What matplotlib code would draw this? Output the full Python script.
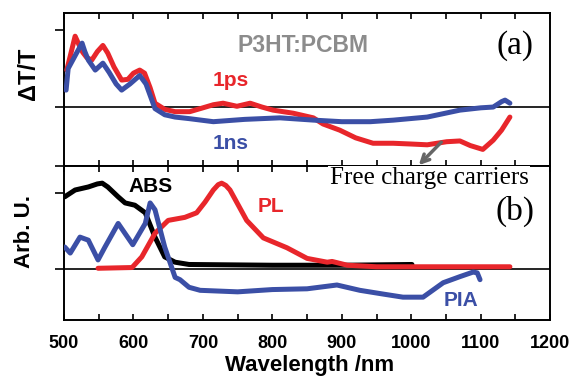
import matplotlib
matplotlib.use("Agg")
import matplotlib.pyplot as plt
from matplotlib.ticker import MultipleLocator

# ------------------------------------------------------
# dados (comprimento de onda em nm)
# painel (a): delta T / T
wl_1ps = [504, 510, 516, 522, 527, 533, 540, 548, 556, 563, 572, 583, 592, 600,
          609, 616, 624, 631, 645, 660, 681, 700, 715, 729, 749, 768, 785, 801,
          830, 859, 873, 897, 920, 945, 974, 1000, 1023, 1051, 1070, 1085, 1103,
          1118, 1130, 1142]
dt_1ps = [0.48, 0.70, 0.92, 0.80, 0.71, 0.64, 0.61, 0.72, 0.80, 0.70, 0.52, 0.35,
          0.36, 0.44, 0.48, 0.44, 0.25, 0.05, -0.03, -0.06, -0.06, -0.01, 0.03,
          0.05, 0.01, 0.05, 0.00, -0.04, -0.08, -0.14, -0.22, -0.30, -0.40, -0.47,
          -0.47, -0.48, -0.49, -0.45, -0.44, -0.50, -0.55, -0.43, -0.30, -0.13]

wl_1ns = [503, 506, 512, 518, 526, 530, 535, 545, 556, 565, 575, 583, 595, 609,
          618, 631, 645, 660, 680, 715, 760, 811, 860, 900, 941, 974, 1023, 1070,
          1100, 1118, 1130, 1135, 1142]
dt_1ns = [0.22, 0.50, 0.60, 0.70, 0.83, 0.72, 0.61, 0.48, 0.57, 0.45, 0.30, 0.22,
          0.30, 0.41, 0.30, -0.02, -0.10, -0.13, -0.15, -0.19, -0.16, -0.14, -0.17,
          -0.19, -0.19, -0.17, -0.13, -0.04, -0.01, 0.00, 0.07, 0.09, 0.05]

# painel (b): unidades arbitrárias
wl_abs = [501, 516, 535, 548, 555, 563, 578, 588, 602, 617, 631, 645, 660, 680,
          800, 900, 1001]
abs_val = [0.95, 1.04, 1.08, 1.12, 1.13, 1.08, 0.95, 0.87, 0.84, 0.74, 0.42, 0.16,
           0.09, 0.06, 0.05, 0.05, 0.06]

wl_pl = [549, 598, 612, 631, 650, 674, 691, 703, 715, 722, 727, 733, 739, 751,
         763, 787, 821, 850, 879, 886, 908, 950, 1142]
pl_val = [0.01, 0.02, 0.16, 0.47, 0.64, 0.68, 0.74, 0.88, 1.04, 1.11, 1.13, 1.10,
          1.04, 0.84, 0.64, 0.41, 0.28, 0.14, 0.09, 0.10, 0.05, 0.03, 0.03]

wl_pia = [501, 509, 523, 535, 549, 559, 578, 599, 617, 624, 631, 645, 660, 667,
          680, 696, 750, 800, 850, 893, 926, 960, 988, 1017, 1046, 1070, 1089,
          1095, 1099]
pia_val = [0.29, 0.21, 0.42, 0.38, 0.12, 0.29, 0.60, 0.32, 0.60, 0.87, 0.78, 0.29,
           -0.11, -0.14, -0.24, -0.28, -0.30, -0.27, -0.26, -0.21, -0.28, -0.33,
           -0.37, -0.37, -0.18, -0.10, -0.04, -0.05, -0.14]

xticks = [500, 600, 700, 800, 900, 1000, 1100, 1200]

# cores e fontes
VERMELHO = "#e8262b"
AZUL = "#3b4fa6"
SANS = "Liberation Sans"
SERIF = "Liberation Serif"
LW = 3.6


#------------------------------------------------------
def arruma_eixo(ax, ylim, yticks):
    ax.set_xlim(500, 1200)
    ax.set_ylim(*ylim)
    ax.axhline(0, color="black", lw=1.2, zorder=1)
    for s in ax.spines.values():
        s.set_linewidth(1.4)
    ax.xaxis.set_major_locator(MultipleLocator(100))
    ax.xaxis.set_minor_locator(MultipleLocator(50))
    ax.tick_params(axis="x", which="both", direction="in", top=True,
                   bottom=True, length=4, width=1.2)
    ax.set_yticks(yticks)
    ax.set_yticklabels([])
    ax.tick_params(axis="y", direction="out", length=6.5, width=1.2)


def curva(ax, x, y, cor, z):
    ax.plot(x, y, color=cor, lw=LW, zorder=z, solid_joinstyle="round",
            solid_capstyle="round")


#------------------------------------------------------
def main():
    fig = plt.figure(figsize=(5.74, 3.80), dpi=100)
    ax1 = fig.add_axes([0.1115, 0.563, 0.847, 0.4026])
    ax2 = fig.add_axes([0.1115, 0.158, 0.847, 0.405])

    # painel (a)
    curva(ax1, wl_1ps, dt_1ps, VERMELHO, 3)
    curva(ax1, wl_1ns, dt_1ns, AZUL, 4)
    arruma_eixo(ax1, (-0.766, 1.22), [-0.766, 0, 1])
    ax1.tick_params(axis="x", labelbottom=False)

    ax1.text(844, 0.80, "P3HT:PCBM", color="#8c8c8c", fontsize=16.5,
             fontweight="bold", family=SANS, ha="center", va="center")
    ax1.text(1150, 0.80, "(a)", fontsize=24, family=SERIF, ha="center", va="center")
    ax1.text(740, 0.34, "1ps", color=VERMELHO, fontsize=15, fontweight="bold",
             family=SANS, ha="center", va="center")
    ax1.text(740, -0.47, "1ns", color=AZUL, fontsize=15, fontweight="bold",
             family=SANS, ha="center", va="center")
    ax1.annotate("", xy=(1008, -0.78), xytext=(1046, -0.43),
                 arrowprops=dict(arrowstyle="->", color="#666666", lw=2.5,
                                 mutation_scale=14),
                 annotation_clip=False, zorder=6)

    # painel (b)
    curva(ax2, wl_abs, abs_val, "black", 3)
    curva(ax2, wl_pl, pl_val, VERMELHO, 4)
    curva(ax2, wl_pia, pia_val, AZUL, 5)
    arruma_eixo(ax2, (-0.67, 1.355), [0, 1])
    ax2.set_xticks(xticks)
    ax2.set_xticklabels([str(t) for t in xticks], fontsize=13,
                        fontweight="bold", family=SANS)
    ax2.tick_params(axis="x", pad=11)

    ax2.text(625, 1.08, "ABS", fontsize=15, fontweight="bold", family=SANS,
             ha="center", va="center")
    ax2.text(798, 0.82, "PL", color=VERMELHO, fontsize=15, fontweight="bold",
             family=SANS, ha="center", va="center")
    ax2.text(1072, -0.41, "PIA", color=AZUL, fontsize=15, fontweight="bold",
             family=SANS, ha="center", va="center")
    ax2.text(1150, 0.76, "(b)", fontsize=24, family=SERIF, ha="center", va="center")

    # texto sobre a divisa dos dois paineis, com fundo branco
    fig.text(429 / 574, 1 - 178 / 380, "Free charge carriers", fontsize=18,
             family=SERIF, ha="center", va="center", zorder=10,
             bbox=dict(facecolor="white", edgecolor="none", pad=1.0))

    # rótulos dos eixos
    fig.text(28 / 574, 1 - 74 / 380, "ΔT/T", rotation=90, fontsize=17,
             fontweight="bold", family=SANS, ha="center", va="center")
    fig.text(24 / 574, 1 - 231 / 380, "Arb. U.", rotation=90, fontsize=16,
             fontweight="bold", family=SANS, ha="center", va="center")
    fig.text(310 / 574, 1 - 365 / 380, "Wavelength /nm", fontsize=16,
             fontweight="bold", family=SANS, ha="center", va="center")

    fig.savefig("out.png", dpi=100)


#--------------------------------------------------------------
if __name__ == "__main__":
    main()
